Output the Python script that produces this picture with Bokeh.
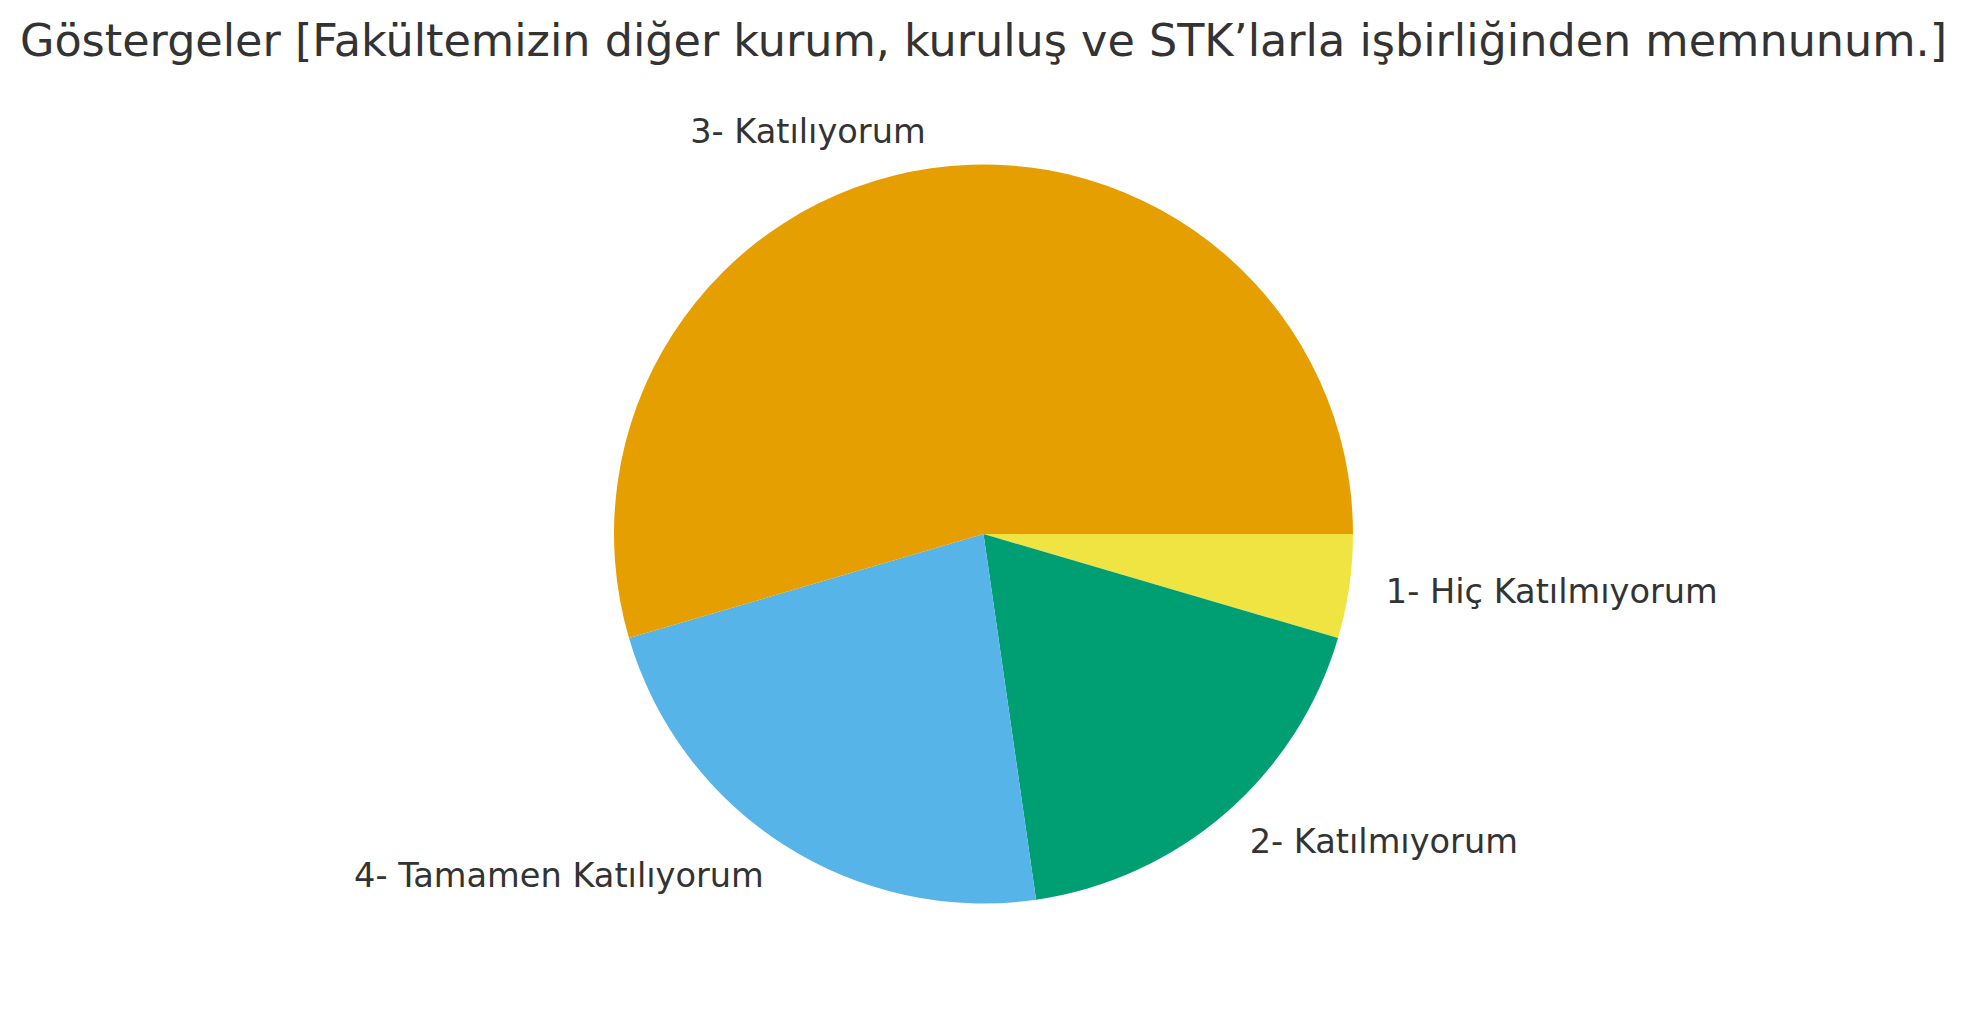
import math
from bokeh.plotting import figure
from bokeh.models import Range1d, Label, ColumnDataSource
from bokeh.embed import file_html
from bokeh.resources import INLINE
from bokeh.core.properties import value

title_text = "Göstergeler [Fakültemizin diğer kurum, kuruluş ve STK’larla işbirliğinden memnunum.]"
categories = ["1- Hiç Katılmıyorum", "2- Katılmıyorum", "4- Tamamen Katılıyorum", "3- Katılıyorum"]
counts = [1, 4, 5, 12]
colors = ["#F0E442", "#009E73", "#56B4E9", "#E69F00"]

W, H = 1950, 1000
R = 369.5
cx, cy = 983.0, 533.5  # canvas pixels (from top)

p = figure(width=W, height=H, output_backend="svg", toolbar_location=None,
           min_border=0, outline_line_color=None)
p.x_range = Range1d(-cx / R, (W - cx) / R)
p.y_range = Range1d(-(H - cy) / R, cy / R)
p.axis.visible = False
p.grid.visible = False
p.background_fill_color = "white"
p.border_fill_color = "white"

total = sum(counts)
cum = [0.0]
for c in counts:
    cum.append(cum[-1] + c / total * 2 * math.pi)

starts = [-cum[i + 1] for i in range(len(counts))]
ends = [-cum[i] for i in range(len(counts))]
src = ColumnDataSource(dict(start=starts, end=ends, color=colors))
p.wedge(x=0, y=0, radius=1.0, start_angle="start", end_angle="end",
        direction="anticlock", fill_color="color", line_color=None, source=src)

lx, ly, align = [], [], []
for i, cat in enumerate(categories):
    mid = -(cum[i] + cum[i + 1]) / 2
    x = 1.1 * math.cos(mid)
    y = 1.1 * math.sin(mid)
    lx.append(x)
    ly.append(y)
    align.append("left" if x > 0 else "right")
lsrc = ColumnDataSource(dict(x=lx, y=ly, t=categories, a=align))
p.text(x="x", y="y", text="t", text_align="a", text_baseline="middle",
       text_font=value("DejaVu Sans"), text_font_size="33.6px",
       text_color="#333333", source=lsrc)

title = Label(x=cx, y=H - 40, x_units="screen", y_units="screen", text=title_text,
              text_align="center", text_baseline="alphabetic",
              text_font="DejaVu Sans", text_font_size="44.5px", text_color="#333333")
p.add_layout(title)

open("out.html", "w").write(file_html(p, INLINE))
